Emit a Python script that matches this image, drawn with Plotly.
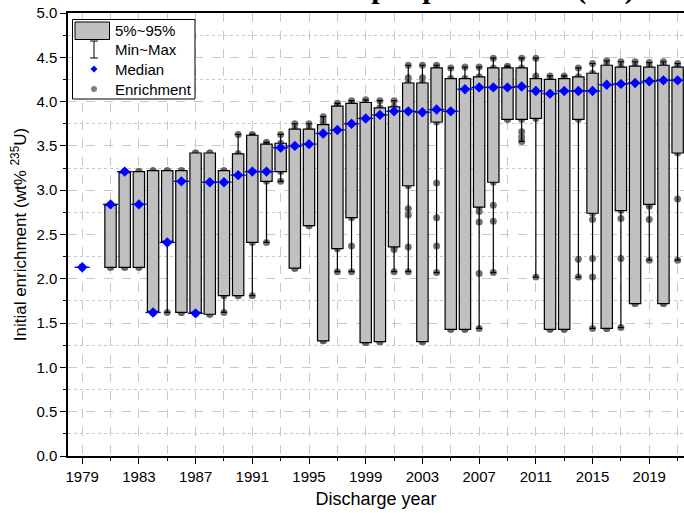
import plotly.graph_objects as go

# Discharge years with data (no assemblies discharged in 1980)
years = [1979, 1981, 1982, 1983, 1984, 1985, 1986, 1987, 1988, 1989,
         1990, 1991, 1992, 1993, 1994, 1995, 1996, 1997, 1998, 1999,
         2000, 2001, 2002, 2003, 2004, 2005, 2006, 2007, 2008, 2009,
         2010, 2011, 2012, 2013, 2014, 2015, 2016, 2017, 2018, 2019,
         2020, 2021]

# 5th percentile of initial enrichment (wt% U-235)
p05 = [2.13, 2.13, 2.13, 2.13, 1.62, 2.41, 1.62, 1.61, 1.60, 1.81,
       1.81, 2.41, 3.10, 3.21, 2.12, 2.60, 1.30, 2.34, 2.69, 1.28,
       1.29, 2.36, 3.05, 1.29, 3.77, 1.43, 1.43, 2.81, 3.09, 3.80,
       3.80, 3.81, 1.43, 1.43, 3.80, 2.74, 1.44, 2.77, 1.72, 2.84,
       1.72, 3.42]

# 95th percentile
p95 = [2.13, 2.84, 3.21, 3.21, 3.22, 3.22, 3.22, 3.42, 3.42, 3.22,
       3.41, 3.62, 3.52, 3.53, 3.69, 3.69, 3.74, 3.95, 3.98, 3.99,
       3.93, 3.94, 4.21, 4.21, 4.38, 4.26, 4.26, 4.28, 4.38, 4.38,
       4.38, 4.26, 4.25, 4.26, 4.28, 4.32, 4.41, 4.39, 4.40, 4.39,
       4.41, 4.39]

# Median
median = [2.13, 2.84, 3.21, 2.84, 1.62, 2.41, 3.10, 1.61, 3.09, 3.09,
          3.17, 3.21, 3.21, 3.48, 3.50, 3.52, 3.64, 3.68, 3.75, 3.81,
          3.85, 3.89, 3.89, 3.88, 3.91, 3.89, 4.14, 4.16, 4.16, 4.16,
          4.17, 4.12, 4.09, 4.12, 4.12, 4.12, 4.19, 4.20, 4.21, 4.23,
          4.24, 4.24]

# Minimum and maximum
v_min = [2.13, 2.13, 2.13, 2.13, 1.62, 1.62, 1.62, 1.61, 1.60, 1.62,
         1.81, 1.81, 2.41, 3.10, 2.12, 2.60, 1.30, 2.08, 2.08, 1.28,
         1.29, 2.08, 2.08, 1.29, 2.07, 1.43, 1.43, 1.44, 2.07, 3.80,
         3.55, 2.02, 1.43, 1.43, 2.02, 1.44, 1.44, 1.45, 1.72, 2.21,
         1.72, 2.21]
v_max = [2.13, 2.84, 3.21, 3.21, 3.22, 3.22, 3.22, 3.42, 3.42, 3.22,
         3.63, 3.63, 3.54, 3.63, 3.75, 3.75, 3.83, 3.98, 4.01, 4.02,
         4.01, 4.01, 4.41, 4.41, 4.41, 4.38, 4.39, 4.39, 4.49, 4.40,
         4.49, 4.49, 4.29, 4.29, 4.38, 4.43, 4.46, 4.45, 4.45, 4.44,
         4.45, 4.43]

# Individual enrichment values lying between the percentile box and the extremes
extra_years = [1988, 1996, 1997, 1998, 2001, 2002, 2002, 2002, 2002, 2003,
               2004, 2004, 2004, 2007, 2007, 2007, 2008, 2008, 2010, 2010,
               2011, 2014, 2015, 2015, 2015, 2017, 2017, 2019, 2019, 2021]
extra_values = [2.41, 3.78, 2.37, 2.37, 2.33, 4.27, 2.79, 2.72, 2.36, 4.27,
                3.08, 2.69, 2.37, 2.76, 2.64, 2.06, 2.83, 2.65, 3.66, 3.60,
                4.29, 2.22, 2.67, 2.23, 2.02, 2.68, 2.23, 2.82, 2.67, 2.90]

FONT = "Liberation Sans, Arial, sans-serif"
BOX_FILL = "#c0c0c0"
DOT_COLOR = "rgba(96,96,96,0.9)"
MEDIAN_BLUE = "#0000ff"

# plot area in pixels, used to place the hand-built legend
L, R, T, B = 68, 684, 13, 456
W, H = 684, 513


def fx(px):
    return (px - L) / (R - L)


def fy(py):
    return (B - py) / (B - T)


# every recorded enrichment value: the extremes, the percentile edges and the extras
dot_x, dot_y = [], []
for i, yr in enumerate(years):
    for v in (v_min[i], p05[i], p95[i], v_max[i]):
        dot_x.append(yr)
        dot_y.append(v)
dot_x += extra_years
dot_y += extra_values

fig = go.Figure()

# raw values sit on the base subplot so the boxes cover them
fig.add_trace(go.Scatter(
    x=dot_x, y=dot_y, mode="markers",
    marker=dict(size=7, color=DOT_COLOR),
    showlegend=False, hoverinfo="skip", xaxis="x", yaxis="y"))

# 5%-95% boxes with min-max whiskers on the overlaid subplot
fig.add_trace(go.Box(
    x=years, q1=p05, median=median, q3=p95,
    lowerfence=v_min, upperfence=v_max,
    width=0.8, whiskerwidth=0.5, boxpoints=False,
    fillcolor=BOX_FILL, line=dict(color="black", width=1.2),
    showlegend=False, xaxis="x2", yaxis="y2"))

# median marks
fig.add_trace(go.Scatter(
    x=years, y=median, mode="markers",
    marker=dict(symbol="line-ew", size=11,
                line=dict(color=MEDIAN_BLUE, width=1.3)),
    showlegend=False, hoverinfo="skip", xaxis="x2", yaxis="y2"))
fig.add_trace(go.Scatter(
    x=years, y=median, mode="markers",
    marker=dict(symbol="diamond", size=8, color=MEDIAN_BLUE,
                line=dict(width=0)),
    showlegend=False, xaxis="x2", yaxis="y2"))

x_range = [1978.0, 2021.45]
y_range = [0, 5]

axis_common = dict(
    showline=True, linecolor="black", linewidth=1.5,
    ticks="outside", ticklen=6, tickwidth=1.3, tickcolor="black",
    tickfont=dict(family=FONT, size=15, color="black"),
    showgrid=True, gridcolor="#c8c8c8", gridwidth=1, griddash="dash",
    zeroline=False,
)

fig.update_layout(
    width=W, height=H,
    margin=dict(l=L, r=W - R, t=T, b=H - B, pad=0),
    paper_bgcolor="white", plot_bgcolor="white",
    showlegend=False,
    xaxis=dict(
        range=x_range, tickmode="linear", tick0=1979, dtick=4,
        mirror=True,
        minor=dict(tick0=1979, dtick=2, ticks="outside", ticklen=3,
                   tickcolor="black", showgrid=True, gridcolor="#c8c8c8",
                   griddash="dash"),
        title=dict(text="Discharge year",
                   font=dict(family=FONT, size=18, color="black"),
                   standoff=9),
        **axis_common),
    yaxis=dict(
        range=y_range, tickmode="linear", tick0=0, dtick=0.5,
        tickformat=".1f", mirror=False,
        minor=dict(dtick=0.25, ticks="outside", ticklen=3,
                   tickcolor="black", showgrid=True, gridcolor="#c8c8c8",
                   griddash="dot"),
        title=dict(text="Initial enrichment (wt% <sup>235</sup>U)",
                   font=dict(family=FONT, size=17, color="black"),
                   standoff=5),
        **axis_common),
    xaxis2=dict(range=x_range, overlaying="x", visible=False),
    yaxis2=dict(range=y_range, overlaying="y", visible=False),
)

# legend frame and symbols
shapes = [
    dict(type="rect", xref="paper", yref="paper",
         x0=fx(72.5), x1=fx(195), y0=fy(99), y1=fy(19.5),
         line=dict(color="black", width=1), fillcolor="white", layer="above"),
    dict(type="rect", xref="paper", yref="paper",
         x0=fx(75), x1=fx(109.5), y0=fy(39.5), y1=fy(22),
         line=dict(color="black", width=1), fillcolor=BOX_FILL, layer="above"),
    dict(type="line", xref="paper", yref="paper",
         x0=fx(94), x1=fx(94), y0=fy(58), y1=fy(41),
         line=dict(color="black", width=1), layer="above"),
    dict(type="line", xref="paper", yref="paper",
         x0=fx(90), x1=fx(98), y0=fy(41), y1=fy(41),
         line=dict(color="black", width=1), layer="above"),
    dict(type="line", xref="paper", yref="paper",
         x0=fx(90), x1=fx(98), y0=fy(58), y1=fy(58),
         line=dict(color="black", width=1), layer="above"),
    dict(type="path", xref="paper", yref="paper",
         path="M {a},{b} L {c},{d} L {a},{e} L {f},{d} Z".format(
             a=fx(94), b=fy(65.5), c=fx(97.5), d=fy(69), e=fy(72.5), f=fx(90.5)),
         line=dict(width=0), fillcolor=MEDIAN_BLUE, layer="above"),
    dict(type="circle", xref="paper", yref="paper",
         x0=fx(91), x1=fx(97), y0=fy(92), y1=fy(86),
         line=dict(width=0), fillcolor="#808080", layer="above"),
]

legend_labels = ["5%~95%", "Min~Max", "Median", "Enrichment"]
legend_rows = [31, 50, 69, 89]
annotations = [
    dict(text=t, xref="paper", yref="paper", x=fx(113), y=fy(r),
         xanchor="left", yanchor="middle", showarrow=False,
         font=dict(family=FONT, size=15, color="black"))
    for t, r in zip(legend_labels, legend_rows)
]

# panel heading, almost entirely above the top edge of the page
annotations.append(dict(
    text="<b>Input parameters (US)</b>", xref="paper", yref="paper",
    x=fx(341), y=fy(7), xanchor="left", yanchor="bottom", showarrow=False,
    font=dict(family="Liberation Serif, Times New Roman, serif", size=30,
              color="black")))

fig.update_layout(shapes=shapes, annotations=annotations)

fig.write_html("out.html")
